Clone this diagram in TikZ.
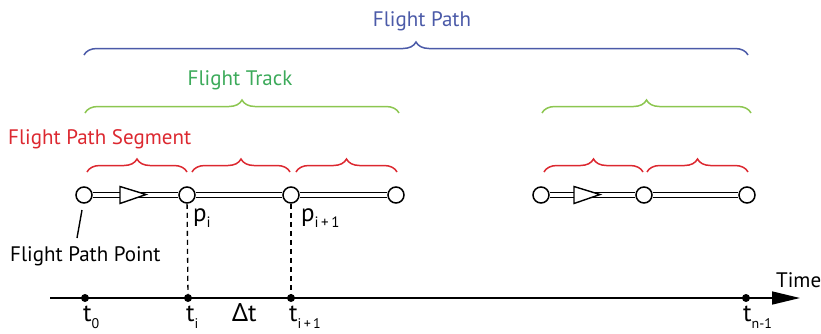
\documentclass[tikz,border=0pt]{standalone}
\usepackage{fontspec}
\setmainfont{PT Sans}
\newfontfamily\greekfont{Noto Sans}
\usetikzlibrary{decorations.pathreplacing,arrows.meta,calc}
\definecolor{fpblue}{RGB}{75,90,168}
\definecolor{fpgreentxt}{RGB}{60,170,90}
\definecolor{fpgreen}{RGB}{140,198,80}
\definecolor{fpred}{RGB}{220,40,48}
\newcommand{\psub}[1]{\raisebox{-6pt}{\fontsize{15}{15}\selectfont #1}}
\newcommand{\tsub}[1]{\raisebox{-7pt}{\fontsize{14}{14}\selectfont #1}}
\begin{document}
\begin{tikzpicture}[x=1pt,y=1pt,
  lbl/.style={font=\fontsize{21}{24}\selectfont, inner sep=0pt},
  bigl/.style={font=\fontsize{25}{28}\selectfont, inner sep=0pt, anchor=base west},
  fbrace/.style={decorate, decoration={brace, amplitude=13pt}, line width=1.5pt},
  fpt/.style={circle, draw, fill=white, line width=1.5pt, minimum size=16pt, inner sep=0pt},
  dbl/.style={line width=1.4pt, double=white, double distance=3.4pt},
  tdot/.style={circle, fill=black, minimum size=8pt, inner sep=0pt},
  dir/.style={draw, fill=white, line width=1.4pt, line join=miter},
  dsh/.style={line width=1.3pt, dash pattern=on 5pt off 4pt},
]
\useasboundingbox (0,0) rectangle (821,-333);

% braces
\draw[fbrace, fpblue] (84,-55) -- (748,-55);
\draw[fbrace, fpgreen] (85,-113) -- (399,-113);
\draw[fbrace, fpgreen] (542,-113) -- (751,-113);
\draw[fbrace, fpred] (87,-172) -- (187,-172);
\draw[fbrace, fpred] (192,-172) -- (290,-172);
\draw[fbrace, fpred] (296,-172) -- (397,-172);
\draw[fbrace, fpred] (544,-172) -- (643,-172);
\draw[fbrace, fpred] (647,-172) -- (748,-172);

% labels
\node[lbl, text=fpblue, anchor=base] (fpath) at (422,-26) {Flight Path};
\node[lbl, text=fpgreentxt, anchor=base] (ftrack) at (240,-85) {Flight Track};
\node[lbl, text=fpred, anchor=base west] (fseg) at (8,-144) {Flight Path Segment};

% flight path points
\node[fpt] (p0) at (84,-195) {};
\node[fpt] (p1) at (187,-195) {};
\node[fpt] (p2) at (291,-195) {};
\node[fpt] (p3) at (396,-195) {};
\node[fpt] (q0) at (541,-195) {};
\node[fpt] (q1) at (644,-195) {};
\node[fpt] (q2) at (747,-195) {};

\draw[dbl] (p0) -- (p1);
\draw[dbl] (p1) -- (p2);
\draw[dbl] (p2) -- (p3);
\draw[dbl] (q0) -- (q1);
\draw[dbl] (q1) -- (q2);

% direction triangles
\draw[dir] ($(p0)+(36,8.5)$) -- ($(p0)+(36,-8.5)$) -- ($(p0)+(62,0.5)$) -- cycle;
\draw[dir] ($(q0)+(33,8.5)$) -- ($(q0)+(33,-8.5)$) -- ($(q0)+(59,0.5)$) -- cycle;

% point labels
\node[bigl] (pi) at (193,-221) {p\psub{i}};
\node[bigl] (pip) at (301,-221) {p\psub{i\,+\,1}};

% flight path point
\node[lbl, anchor=base west] (fpp) at (10,-261) {Flight Path Point};
\coordinate (fppTop) at (82,-210);
\coordinate (fppEnd) at (77,-238);
\draw[line width=1.4pt] (fppTop) -- (fppEnd);

% time axis
\coordinate (axL) at (50,-298);
\coordinate (axR) at (800,-298);
\draw[line width=1.6pt, -{Triangle[length=28pt,width=13pt]}] (axL) -- (axR);
\node[lbl, anchor=base west] (time) at (776,-287) {Time};

\node[tdot] (t0) at (85,-298) {};
\node[tdot] (t1) at (188,-298) {};
\node[tdot] (t2) at (291,-298) {};
\node[tdot] (tn) at (746,-298) {};

\draw[dsh] (p1) -- (t1);
\draw[dsh] (p2) -- (t2);

\node[bigl] (lt0) at (83,-321) {t\tsub{0}};
\node[bigl] (lt1) at (186,-321) {t\tsub{i}};
\node[bigl] (ldt) at (232,-321) {{\greekfont Δ}t};
\node[bigl] (lt2) at (289,-321) {t\tsub{i\,+\,1}};
\node[bigl] (ltn) at (743,-321) {t\tsub{n-1}};
\end{tikzpicture}
\end{document}
